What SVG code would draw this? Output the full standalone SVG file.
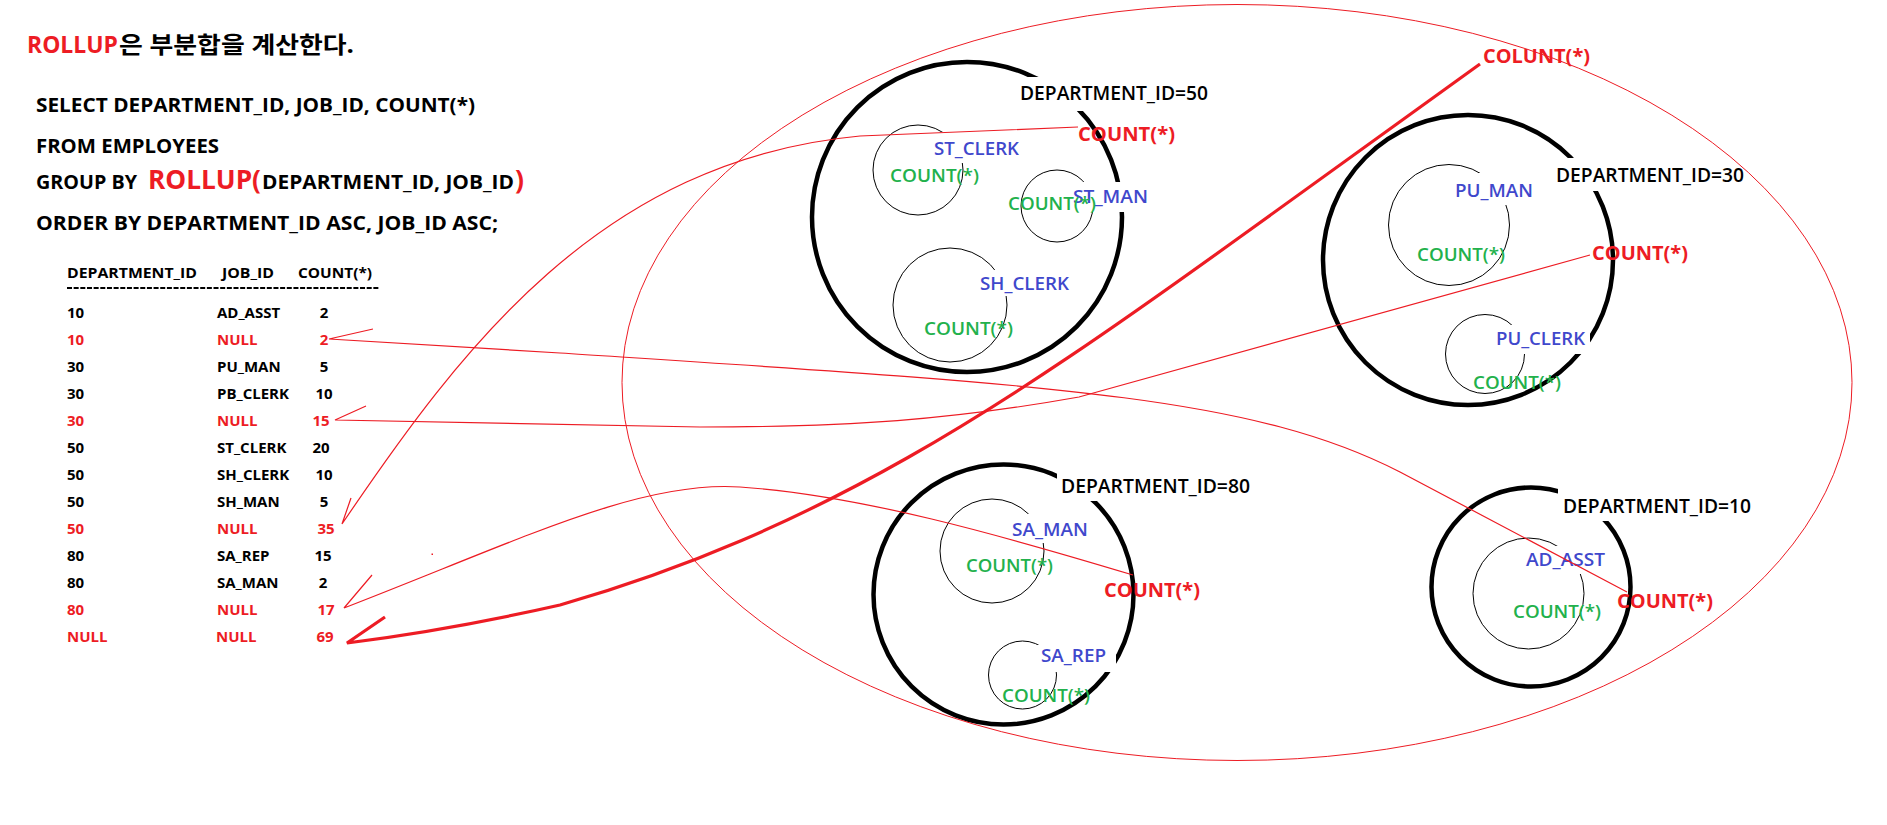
<svg xmlns="http://www.w3.org/2000/svg" width="1887" height="825" viewBox="0 0 1887 825">
<style>
text{font-family:'Open Sans','Noto Sans CJK KR',sans-serif}
.b{font-weight:bold}
.red{fill:#ed1c24}
.grn{fill:#22b14c}
.blu{fill:#3f48cc}
.blk{fill:#000}
.dept{fill:none;stroke:#000;stroke-width:4.5}
.inner{fill:none;stroke:#000;stroke-width:1}
.bg{fill:#fff}
.conn{fill:none;stroke:#ed1c24;stroke-width:1.2;stroke-linejoin:miter}
.thick{stroke-width:3.2}
.sql{font-size:19px;font-weight:bold}
.tb{font-size:15px;font-weight:bold}
.dl{font-size:19px;font-weight:600;fill:#000}
.rc{font-size:19px;font-weight:bold;fill:#ed1c24}
.jl{font-size:18px;font-weight:600;fill:#3f48cc}
.gc{font-size:18px;font-weight:600;fill:#22b14c}
</style>
<rect x="0" y="0" width="1887" height="825" fill="#fff"/>

<g id="title">
<text x="27" y="53" class="b red" font-size="23" textLength="91" lengthAdjust="spacingAndGlyphs">ROLLUP</text>
<text x="119" y="53" class="b blk" font-size="23" textLength="235" lengthAdjust="spacingAndGlyphs">은 부분합을 계산한다.</text>
</g>

<g id="sql">
<text x="36" y="112" class="sql blk" textLength="439" lengthAdjust="spacingAndGlyphs">SELECT DEPARTMENT_ID, JOB_ID, COUNT(*)</text>
<text x="36" y="153" class="sql blk" textLength="183" lengthAdjust="spacingAndGlyphs">FROM EMPLOYEES</text>
<text x="36" y="189" class="sql blk" textLength="101" lengthAdjust="spacingAndGlyphs">GROUP BY</text>
<text x="148" y="189" class="b red" font-size="27" textLength="113" lengthAdjust="spacingAndGlyphs">ROLLUP(</text>
<text x="262" y="189" class="sql blk" textLength="252" lengthAdjust="spacingAndGlyphs">DEPARTMENT_ID, JOB_ID</text>
<text x="515" y="189" class="b red" font-size="27" textLength="9" lengthAdjust="spacingAndGlyphs">)</text>
<text x="36" y="230" class="sql blk" textLength="462" lengthAdjust="spacingAndGlyphs">ORDER BY DEPARTMENT_ID ASC, JOB_ID ASC;</text>
</g>

<g id="result-table">
<text x="67" y="278" class="tb blk" textLength="130" lengthAdjust="spacingAndGlyphs">DEPARTMENT_ID</text>
<text x="222" y="278" class="tb blk" textLength="52" lengthAdjust="spacingAndGlyphs">JOB_ID</text>
<text x="298" y="278" class="tb blk" textLength="74" lengthAdjust="spacingAndGlyphs">COUNT(*)</text>
<line x1="67" y1="288" x2="380" y2="288" stroke="#000" stroke-width="2" stroke-dasharray="5 1.66"/>
<g class="tb">
<text x="67" y="318" class="blk">10</text><text x="217" y="318" class="blk">AD_ASST</text><text x="324" y="318" class="blk" text-anchor="middle">2</text>
<text x="67" y="345" class="red">10</text><text x="217" y="345" class="red">NULL</text><text x="324" y="345" class="red" text-anchor="middle">2</text>
<text x="67" y="372" class="blk">30</text><text x="217" y="372" class="blk">PU_MAN</text><text x="324" y="372" class="blk" text-anchor="middle">5</text>
<text x="67" y="399" class="blk">30</text><text x="217" y="399" class="blk">PB_CLERK</text><text x="324" y="399" class="blk" text-anchor="middle">10</text>
<text x="67" y="426" class="red">30</text><text x="217" y="426" class="red">NULL</text><text x="321" y="426" class="red" text-anchor="middle">15</text>
<text x="67" y="453" class="blk">50</text><text x="217" y="453" class="blk">ST_CLERK</text><text x="321" y="453" class="blk" text-anchor="middle">20</text>
<text x="67" y="480" class="blk">50</text><text x="217" y="480" class="blk">SH_CLERK</text><text x="324" y="480" class="blk" text-anchor="middle">10</text>
<text x="67" y="507" class="blk">50</text><text x="217" y="507" class="blk">SH_MAN</text><text x="324" y="507" class="blk" text-anchor="middle">5</text>
<text x="67" y="534" class="red">50</text><text x="217" y="534" class="red">NULL</text><text x="326" y="534" class="red" text-anchor="middle">35</text>
<text x="67" y="561" class="blk">80</text><text x="217" y="561" class="blk">SA_REP</text><text x="323" y="561" class="blk" text-anchor="middle">15</text>
<text x="67" y="588" class="blk">80</text><text x="217" y="588" class="blk">SA_MAN</text><text x="323" y="588" class="blk" text-anchor="middle">2</text>
<text x="67" y="615" class="red">80</text><text x="217" y="615" class="red">NULL</text><text x="326" y="615" class="red" text-anchor="middle">17</text>
<text x="67" y="642" class="red">NULL</text><text x="216" y="642" class="red">NULL</text><text x="325" y="642" class="red" text-anchor="middle">69</text>
</g>
</g>

<g id="dept50">
<circle class="dept" cx="967" cy="217" r="155"/>
<circle class="inner" cx="918" cy="170" r="45"/>
<circle class="inner" cx="1057" cy="206" r="36"/>
<circle class="inner" cx="950" cy="305" r="57"/>
<rect class="bg" x="1015" y="77" width="200" height="34"/>
<rect class="bg" x="930" y="132" width="92" height="31"/>
<rect class="bg" x="1070" y="182" width="82" height="30"/>
<rect class="bg" x="975" y="270" width="98" height="26"/>
<text x="1020" y="100" class="dl" textLength="188" lengthAdjust="spacingAndGlyphs">DEPARTMENT_ID=50</text>
<text x="1078" y="141" class="rc" textLength="97" lengthAdjust="spacingAndGlyphs">COUNT(*)</text>
<text x="934" y="155" class="jl" textLength="85" lengthAdjust="spacingAndGlyphs">ST_CLERK</text>
<text x="890" y="182" class="gc" textLength="89" lengthAdjust="spacingAndGlyphs">COUNT(*)</text>
<text x="1073" y="203" class="jl" textLength="75" lengthAdjust="spacingAndGlyphs">ST_MAN</text>
<text x="1008" y="210" class="gc" textLength="88" lengthAdjust="spacingAndGlyphs">COUNT(*)</text>
<text x="980" y="290" class="jl" textLength="89" lengthAdjust="spacingAndGlyphs">SH_CLERK</text>
<text x="924" y="335" class="gc" textLength="89" lengthAdjust="spacingAndGlyphs">COUNT(*)</text>
</g>

<g id="dept30">
<circle class="dept" cx="1468" cy="260" r="145"/>
<circle class="inner" cx="1449" cy="225" r="60.5"/>
<circle class="inner" cx="1485" cy="354" r="39.5"/>
<rect class="bg" x="1551" y="158" width="199" height="33"/>
<rect class="bg" x="1450" y="173" width="88" height="32"/>
<rect class="bg" x="1490" y="325" width="100" height="29"/>
<text x="1556" y="182" class="dl" textLength="188" lengthAdjust="spacingAndGlyphs">DEPARTMENT_ID=30</text>
<text x="1455" y="197" class="jl" textLength="78" lengthAdjust="spacingAndGlyphs">PU_MAN</text>
<text x="1417" y="261" class="gc" textLength="88" lengthAdjust="spacingAndGlyphs">COUNT(*)</text>
<text x="1592" y="260" class="rc" textLength="96" lengthAdjust="spacingAndGlyphs">COUNT(*)</text>
<text x="1496" y="345" class="jl" textLength="89" lengthAdjust="spacingAndGlyphs">PU_CLERK</text>
<text x="1473" y="389" class="gc" textLength="88" lengthAdjust="spacingAndGlyphs">COUNT(*)</text>
</g>

<g id="dept80">
<circle class="dept" cx="1003.5" cy="594.5" r="130"/>
<circle class="inner" cx="992" cy="551" r="52"/>
<circle class="inner" cx="1022.5" cy="675" r="34"/>
<rect class="bg" x="1057" y="473" width="198" height="28"/>
<rect class="bg" x="1008" y="514" width="84" height="29"/>
<rect class="bg" x="1036" y="645" width="80" height="27"/>
<text x="1061" y="493" class="dl" textLength="189" lengthAdjust="spacingAndGlyphs">DEPARTMENT_ID=80</text>
<text x="1012" y="536" class="jl" textLength="76" lengthAdjust="spacingAndGlyphs">SA_MAN</text>
<text x="966" y="572" class="gc" textLength="87" lengthAdjust="spacingAndGlyphs">COUNT(*)</text>
<text x="1104" y="597" class="rc" textLength="96" lengthAdjust="spacingAndGlyphs">COUNT(*)</text>
<text x="1041" y="662" class="jl" textLength="65" lengthAdjust="spacingAndGlyphs">SA_REP</text>
<text x="1002" y="702" class="gc" textLength="88" lengthAdjust="spacingAndGlyphs">COUNT(*)</text>
</g>

<g id="dept10">
<circle class="dept" cx="1531" cy="587" r="99.5"/>
<circle class="inner" cx="1528.5" cy="593.5" r="55.5"/>
<rect class="bg" x="1558" y="483" width="199" height="38"/>
<rect class="bg" x="1520" y="546" width="90" height="28"/>
<text x="1563" y="513" class="dl" textLength="188" lengthAdjust="spacingAndGlyphs">DEPARTMENT_ID=10</text>
<text x="1526" y="566" class="jl" textLength="79" lengthAdjust="spacingAndGlyphs">AD_ASST</text>
<text x="1513" y="618" class="gc" textLength="88" lengthAdjust="spacingAndGlyphs">COUNT(*)</text>
<text x="1617" y="608" class="rc" textLength="96" lengthAdjust="spacingAndGlyphs">COUNT(*)</text>
</g>

<g id="total">
<ellipse cx="1237" cy="382.5" rx="615" ry="378" fill="none" stroke="#ed1c24" stroke-width="1"/>
<text x="1483" y="63" class="rc" textLength="107" lengthAdjust="spacingAndGlyphs">COLUNT(*)</text>
</g>

<g id="connectors">
<path class="conn thick" d="M385,617 L347,643 Q450,630 560,605 C820,530 1000,410 1240,237 L1480,64"/>
<path class="conn" d="M373,329 L329,339 L560,353 C1050,385 1250,395 1400,472 L1627,592"/>
<path class="conn" d="M366,406 L335,420 L700,427 C850,427 950,420 1079,397 L1590,255"/>
<path class="conn" d="M351,498 L342,524 C460,350 600,160 860,136 L1078,127"/>
<path class="conn" d="M372,575 L344,608 C520,540 640,480 740,487 C860,495 1000,535 1133,575"/>
<rect x="431.5" y="553.5" width="1.5" height="1.5" fill="#ed1c24"/>
</g>
</svg>
